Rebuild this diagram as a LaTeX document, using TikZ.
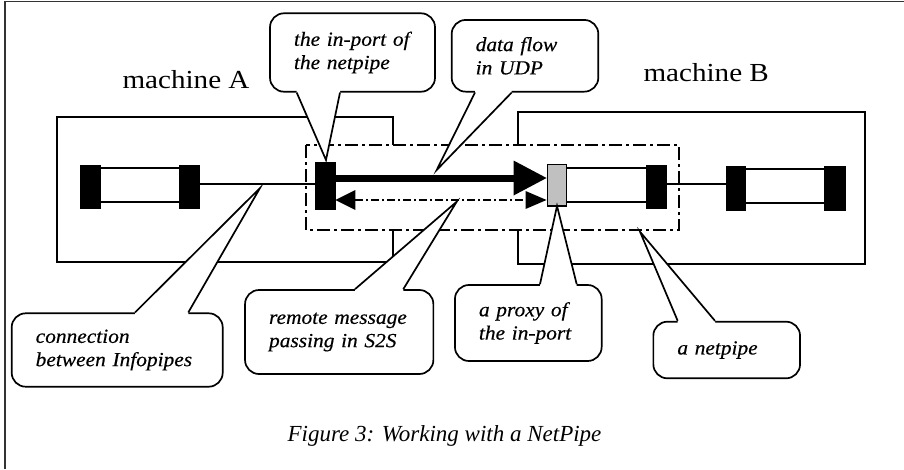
\documentclass[tikz,border=0pt]{standalone}
\usepackage{fontspec}
\setmainfont{Liberation Serif}
\newfontfamily\labfont[FakeStretch=1.12]{Liberation Serif}
\newfontfamily\calfont[FakeStretch=1.07,FakeBold=0.4]{Liberation Serif}
\usetikzlibrary{arrows.meta}
\definecolor{proxygray}{RGB}{192,192,192}
\begin{document}
\begin{tikzpicture}[x=1pt,y=-1pt,
  line width=1.7pt,
  machbox/.style={draw=black,line width=1.7pt},
  netbox/.style={draw=black,fill=white,line width=1.7pt,dash pattern=on 13pt off 4pt on 3pt off 4pt},
  blk/.style={draw=black,fill=black,inner sep=0pt,line width=0.8pt},
  pxy/.style={draw=black,fill=proxygray,inner sep=0pt,line width=1.5pt},
  rail/.style={line width=1.7pt},
  link/.style={line width=2pt},
  callbox/.style={draw=black,fill=white,rounded corners=14pt,line width=1.7pt,inner xsep=24pt,inner ysep=0pt,align=left,font=\calfont\itshape\fontsize{20}{23.3}\selectfont},
  wedge/.style={line width=1.7pt,line join=miter},
  machlabel/.style={font=\labfont\fontsize{26}{30}\selectfont,inner sep=0pt,anchor=base west},
]
\useasboundingbox (0,0) rectangle (904,469);
% frame
\draw[line width=1.8pt,black!80] (904,1.5) -- (5,1.5) -- (5,469);

% machines
\node[machlabel] (labA) at (121.7,88) {machine A};
\node[machlabel] (labB) at (642.7,81.7) {machine B};
\draw[machbox] (56.7,117) rectangle (392.7,261.7);
\draw[machbox] (518.3,111.7) rectangle (865,264.3);

% netpipe box
\draw[netbox] (306,145) rectangle (679,230);

% pipe blocks
\node[blk,minimum width=20pt,minimum height=43.3pt] (a1) at (90,186.7) {};
\node[blk,minimum width=20pt,minimum height=43.3pt] (a2) at (189.3,186.7) {};
\node[blk,minimum width=20pt,minimum height=46.7pt] (inport) at (325,186) {};
\node[pxy,minimum width=19.4pt,minimum height=41.7pt] (proxy) at (557,185.2) {};
\node[blk,minimum width=20pt,minimum height=43.3pt] (b1) at (656.7,186.7) {};
\node[blk,minimum width=19.3pt,minimum height=43.3pt] (c1) at (735.7,188.3) {};
\node[blk,minimum width=21pt,minimum height=43.3pt] (c2) at (834.5,188.3) {};

% rails
\draw[rail] (a1.east |- 0,168.3) -- (a2.west |- 0,168.3);
\draw[rail] (a1.east |- 0,202.3) -- (a2.west |- 0,202.3);
\draw[rail] (proxy.east |- 0,167.7) -- (b1.west |- 0,167.7);
\draw[rail] (proxy.east |- 0,202.3) -- (b1.west |- 0,202.3);
\draw[rail] (c1.east |- 0,169.3) -- (c2.west |- 0,169.3);
\draw[rail] (c1.east |- 0,203.3) -- (c2.west |- 0,203.3);

% links
\draw[link] (a2.east |- 0,184.3) -- (inport.west |- 0,184.3);
\draw[link] (b1.east |- 0,184.3) -- (c1.west |- 0,184.3);

% data flow arrow
\draw[line width=7pt,-{Triangle[length=33pt,width=35pt,line width=0pt]}] (inport.east |- 0,178) -- (proxy.west |- 0,178);
% message passing arrow
\draw[line width=1.7pt,dash pattern=on 8pt off 3pt on 2pt off 3pt,{Triangle[length=20pt,width=20pt,line width=0pt]}-{Triangle[length=21pt,width=18pt,line width=0pt]}] (inport.east |- 0,200) -- (proxy.west |- 0,200);

% callouts
\node[callbox,text width=117pt,minimum height=78.4pt] (kin) at (352.5,52.5) {the in-port of\\the netpipe};
\coordinate (tin) at (326,160);
\fill[white] (kin.south -| 296.7,0) ++(0,-2.5) -- (kin.south -| 296.7,0) -- (tin) -- (kin.south -| 340,0) -- ++(0,-2.5) -- cycle;
\draw[wedge] (kin.south -| 296.7,0) -- (tin) -- (kin.south -| 340,0);

\node[callbox,text width=98.6pt,minimum height=71.7pt] (kudp) at (525,55.8) {data flow\\in UDP};
\coordinate (tudp) at (436.7,170);
\fill[white] (kudp.south -| 475,0) ++(0,-2.5) -- (kudp.south -| 475,0) -- (tudp) -- (kudp.south -| 511.7,0) -- ++(0,-2.5) -- cycle;
\draw[wedge] (kudp.south -| 475,0) -- (tudp) -- (kudp.south -| 511.7,0);

\node[callbox,text width=163pt,minimum height=73.4pt] (kcon) at (117.2,350) {connection\\between Infopipes};
\coordinate (tcon) at (260,188);
\fill[white] (kcon.north -| 135,0) ++(0,2.5) -- (kcon.north -| 135,0) -- (tcon) -- (kcon.north -| 188.3,0) -- ++(0,2.5) -- cycle;
\draw[wedge] (kcon.north -| 135,0) -- (tcon) -- (kcon.north -| 188.3,0);

\node[callbox,text width=140.3pt,minimum height=84pt] (krem) at (339.2,332) {remote message\\passing in S2S};
\coordinate (trem) at (456.7,201.7);
\fill[white] (krem.north -| 355,0) ++(0,2.5) -- (krem.north -| 355,0) -- (trem) -- (krem.north -| 403.3,0) -- ++(0,2.5) -- cycle;
\draw[wedge] (krem.north -| 355,0) -- (trem) -- (krem.north -| 403.3,0);

\node[callbox,text width=98.7pt,minimum height=76pt] (kpxy) at (528.3,323) {a proxy of\\the in-port};
\coordinate (tpxy) at (557,206);
\fill[white] (kpxy.north -| 540,0) ++(0,2.5) -- (kpxy.north -| 540,0) -- (tpxy) -- (kpxy.north -| 576.7,0) -- ++(0,2.5) -- cycle;
\draw[wedge] (kpxy.north -| 540,0) -- (tpxy) -- (kpxy.north -| 576.7,0);

\node[callbox,text width=98.7pt,minimum height=56.6pt] (knet) at (726.7,350) {a netpipe};
\coordinate (tnet) at (640,231.7);
\fill[white] (knet.north -| 677.7,0) ++(0,2.5) -- (knet.north -| 677.7,0) -- (tnet) -- (knet.north -| 715,0) -- ++(0,2.5) -- cycle;
\draw[wedge] (knet.north -| 677.7,0) -- (tnet) -- (knet.north -| 715,0);

% caption
\node[font=\itshape\fontsize{23}{27}\selectfont,anchor=base west,inner sep=0pt] (cap) at (286.7,441) {Figure 3: Working with a NetPipe};
\end{tikzpicture}
\end{document}
